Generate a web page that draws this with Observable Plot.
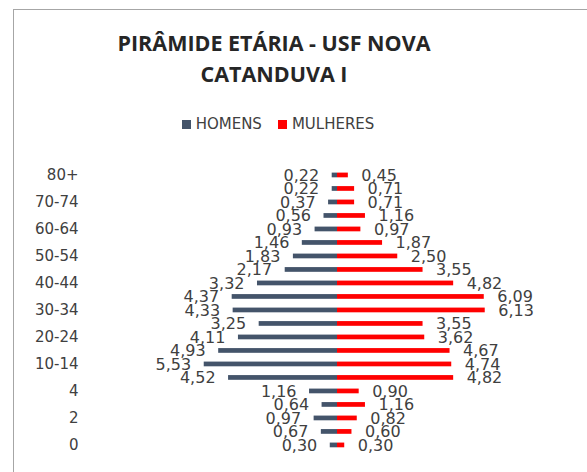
<!DOCTYPE html>
<html>
<head>
<meta charset="utf-8">
<script src="https://cdn.jsdelivr.net/npm/d3@7"></script>
<script src="https://cdn.jsdelivr.net/npm/@observablehq/plot@0.6"></script>
<style>
  html, body { margin: 0; padding: 0; background: #fff; }
  body { width: 587px; height: 472px; position: relative; overflow: hidden; font-family: "DejaVu Sans", sans-serif; }
  #frame { position: absolute; left: 13px; top: 9px; width: 620px; height: 520px; border: 1.5px solid #a6a6a6; box-sizing: border-box; }
  #title { position: absolute; left: 0; top: 27px; width: 548px; text-align: center; font-family: "Open Sans", sans-serif; font-weight: 700; font-size: 21.5px; line-height: 31px; color: #262626; }
  #legend { position: absolute; left: 0; top: 115px; width: 556px; text-align: center; font-size: 15px; color: #404040; }
  #legend span.sw { display: inline-block; width: 9px; height: 9px; margin-right: 5px; vertical-align: 0px; }
  #legend span.item { margin: 0 8px; }
  #chart { position: absolute; left: 0; top: 140px; }
</style>
</head>
<body>
<div id="frame"></div>
<div id="title">PIRÂMIDE ETÁRIA - USF NOVA<br>CATANDUVA I</div>
<div id="legend"><span class="item"><span class="sw" style="background:#44546A"></span>HOMENS</span><span class="item"><span class="sw" style="background:#FF0000"></span>MULHERES</span></div>
<div id="chart"></div>
<script>
const ageGroups = ["80+", "75-79", "70-74", "65-69", "60-64", "55-59", "50-54", "45-49", "40-44", "35-39", "30-34", "25-29", "20-24", "15-19", "10-14", "5-9", "4", "3", "2", "1", "0"];
const homens   = [0.22, 0.22, 0.37, 0.56, 0.93, 1.46, 1.83, 2.17, 3.32, 4.37, 4.33, 3.25, 4.11, 4.93, 5.53, 4.52, 1.16, 0.64, 0.97, 0.67, 0.30];
const mulheres = [0.45, 0.71, 0.71, 1.16, 0.97, 1.87, 2.50, 3.55, 4.82, 6.09, 6.13, 3.55, 3.62, 4.67, 4.74, 4.82, 0.90, 1.16, 0.82, 0.60, 0.30];
const tickLabels = ["80+", "70-74", "60-64", "50-54", "40-44", "30-34", "20-24", "10-14", "4", "2", "0"];
const seriesNames = ["HOMENS", "MULHERES"];
const colors = ["#44546A", "#FF0000"];

const rows = [];
ageGroups.forEach((g, i) => {
  rows.push({age: g, sex: seriesNames[0], value: homens[i], signed: -homens[i]});
  rows.push({age: g, sex: seriesNames[1], value: mulheres[i], signed: mulheres[i]});
});
const fmt = v => v.toFixed(2).replace(".", ",");
const center = 337, ppu = 24.1;

const chart = Plot.plot({
  width: 587,
  height: 330,
  marginTop: 32.6,
  marginBottom: 22.7,
  marginLeft: 83,
  marginRight: 0,
  style: {fontFamily: "DejaVu Sans, sans-serif", fontSize: "15px", color: "#404040", background: "transparent"},
  x: {domain: [-7, 7], range: [center - 7 * ppu, center + 7 * ppu], axis: null},
  y: {domain: ageGroups, paddingInner: 0.65, paddingOuter: 0, round: false, label: null, tickSize: 0, tickPadding: 5, ticks: tickLabels},
  color: {domain: seriesNames, range: colors},
  marks: [
    Plot.barX(rows, {y: "age", x: "signed", fill: "sex"}),
    Plot.ruleX([0], {stroke: "#a0a0a0", strokeWidth: 1.5, y1: ageGroups[0], y2: ageGroups[ageGroups.length - 1], insetTop: -7, insetBottom: -8}),
    Plot.text(rows.filter(d => d.sex === seriesNames[0]), {y: "age", x: "signed", text: d => fmt(d.value), textAnchor: "end", dx: -13, fill: "#404040", fontSize: 16, letterSpacing: 0.5}),
    Plot.text(rows.filter(d => d.sex === seriesNames[1]), {y: "age", x: "signed", text: d => fmt(d.value), textAnchor: "start", dx: 13, fill: "#404040", fontSize: 16, letterSpacing: 0.5})
  ]
});
document.getElementById("chart").appendChild(chart);
</script>
</body>
</html>
